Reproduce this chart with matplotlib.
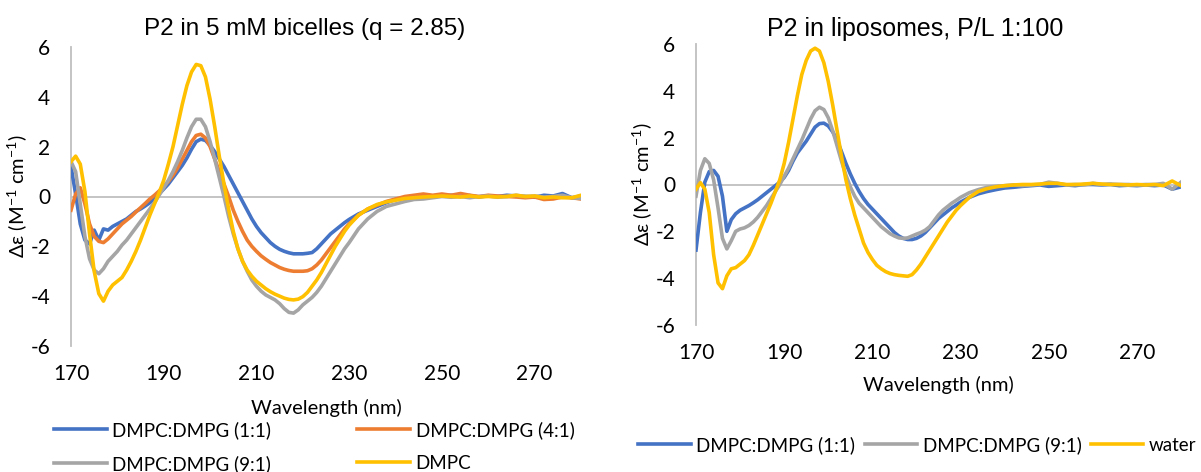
import matplotlib
matplotlib.use("Agg")
import matplotlib.pyplot as plt

plt.rcParams['font.family'] = ['Lato', 'DejaVu Sans']
plt.rcParams['mathtext.fontset'] = 'custom'
plt.rcParams['mathtext.rm'] = 'Lato'
plt.rcParams['mathtext.it'] = 'Lato:italic'
plt.rcParams['axes.unicode_minus'] = False

# wavelength grid (nm), shared by all series
wl = list(range(170, 231)) + list(range(232, 281, 2))

# --- P2 in 5 mM bicelles ---
bic_11 = [1.2, 0.1, -1.1, -1.75, -1.9, -1.35, -1.75, -1.3, -1.35, -1.2,
          -1.1, -1.0, -0.9, -0.75, -0.6, -0.5, -0.38, -0.25, -0.08, 0.1,
          0.3, 0.5, 0.75, 1.0, 1.25, 1.55, 1.9, 2.2, 2.3, 2.25,
          2.05, 1.8, 1.5, 1.2, 0.85, 0.5, 0.15, -0.2, -0.55, -0.9,
          -1.2, -1.45, -1.65, -1.85, -2.0, -2.12, -2.2, -2.26, -2.3, -2.3,
          -2.3, -2.28, -2.25, -2.1, -1.9, -1.7, -1.5, -1.35, -1.2, -1.05,
          -0.92,
          -0.7, -0.55, -0.4, -0.25, -0.12, -0.05, 0.0, -0.03, 0.0, 0.02,
          0.05, 0.0, 0.04, -0.02, 0.03, 0.0, 0.05, 0.02, 0.0, -0.03,
          0.05, 0.02, 0.12, -0.05, 0.02]
bic_41 = [-0.55, 0.1, 0.35, -0.3, -1.1, -1.6, -1.8, -1.85, -1.7, -1.5,
          -1.3, -1.1, -0.95, -0.8, -0.62, -0.45, -0.28, -0.1, 0.05, 0.22,
          0.4, 0.6, 0.85, 1.15, 1.5, 1.85, 2.2, 2.45, 2.5, 2.35,
          2.0, 1.5, 1.0, 0.5, 0.0, -0.55, -1.0, -1.4, -1.75, -2.0,
          -2.2, -2.38, -2.52, -2.65, -2.75, -2.85, -2.92, -2.97, -3.0, -3.0,
          -3.0, -2.98, -2.9, -2.75, -2.55, -2.3, -2.05, -1.8, -1.55, -1.3,
          -1.1,
          -0.75, -0.5, -0.35, -0.2, -0.1, 0.0, 0.05, 0.1, 0.05, 0.1,
          0.05, 0.12, 0.05, 0.0, 0.05, 0.02, 0.0, -0.02, -0.05, -0.02,
          -0.12, -0.1, -0.02, -0.05, -0.1]
bic_91 = [1.4, 1.0, -0.3, -1.6, -2.5, -2.95, -3.1, -2.9, -2.6, -2.4,
          -2.2, -1.95, -1.75, -1.5, -1.25, -1.0, -0.75, -0.5, -0.25, 0.05,
          0.35, 0.65, 1.0, 1.4, 1.85, 2.35, 2.8, 3.1, 3.1, 2.8,
          2.2, 1.5, 0.75, 0.0, -0.8, -1.5, -2.1, -2.6, -3.0, -3.35,
          -3.6, -3.8, -3.95, -4.05, -4.15, -4.3, -4.5, -4.65, -4.68, -4.55,
          -4.35, -4.2, -4.05, -3.85, -3.6, -3.3, -3.0, -2.7, -2.4, -2.1,
          -1.85,
          -1.3, -0.9, -0.6, -0.4, -0.3, -0.2, -0.12, -0.1, -0.05, 0.0,
          -0.03, 0.0, -0.05, 0.0, 0.02, -0.03, 0.0, 0.05, 0.0, 0.02,
          -0.02, 0.0, 0.05, -0.05, -0.08]
bic_dmpc = [1.4, 1.62, 1.3, 0.2, -1.5, -3.0, -3.9, -4.2, -3.8, -3.55,
            -3.4, -3.25, -2.95, -2.6, -2.2, -1.75, -1.25, -0.75, -0.3, 0.15,
            0.65, 1.3, 2.0, 2.85, 3.7, 4.45, 5.0, 5.3, 5.25, 4.8,
            3.9, 2.8, 1.6, 0.5, -0.5, -1.4, -2.1, -2.6, -2.95, -3.2,
            -3.4, -3.55, -3.7, -3.82, -3.92, -4.0, -4.08, -4.13, -4.15, -4.12,
            -4.02, -3.85, -3.6, -3.35, -3.05, -2.7, -2.35, -2.0, -1.7, -1.4,
            -1.15,
            -0.75, -0.5, -0.32, -0.22, -0.15, -0.08, -0.05, -0.02, 0.0, 0.02,
            0.0, -0.02, 0.02, -0.02, 0.0, -0.02, 0.0, 0.05, 0.0, 0.02,
            -0.05, -0.02, -0.05, -0.05, 0.05]

# --- P2 in liposomes ---
lip_11 = [-2.8, -1.2, 0.1, 0.55, 0.6, 0.35, -0.5, -2.0, -1.5, -1.25,
          -1.1, -1.0, -0.9, -0.78, -0.65, -0.5, -0.35, -0.2, -0.05, 0.1,
          0.3, 0.6, 1.0, 1.35, 1.6, 1.85, 2.15, 2.45, 2.6, 2.62,
          2.5, 2.25, 1.9, 1.4, 0.9, 0.45, 0.05, -0.3, -0.6, -0.85,
          -1.05, -1.25, -1.45, -1.65, -1.85, -2.05, -2.2, -2.3, -2.35, -2.35,
          -2.3, -2.2, -2.05, -1.85, -1.65, -1.45, -1.3, -1.15, -1.0, -0.88,
          -0.75,
          -0.55, -0.4, -0.3, -0.22, -0.15, -0.12, -0.08, -0.05, -0.02, -0.08,
          -0.05, -0.02, -0.05, 0.0, 0.0, -0.02, 0.0, -0.05, -0.03, -0.05,
          -0.02, -0.05, -0.02, -0.2, -0.1]
lip_91 = [-0.5, 0.6, 1.1, 0.9, 0.2, -1.0, -2.3, -2.75, -2.4, -2.0,
          -1.9, -1.85, -1.75, -1.6, -1.4, -1.15, -0.9, -0.6, -0.3, 0.0,
          0.35, 0.7, 1.1, 1.5, 1.9, 2.35, 2.8, 3.15, 3.3, 3.2,
          2.85, 2.3, 1.65, 1.0, 0.4, -0.1, -0.5, -0.8, -1.0, -1.2,
          -1.4, -1.6, -1.8, -1.95, -2.1, -2.2, -2.28, -2.3, -2.28, -2.2,
          -2.12, -2.05, -1.95, -1.8, -1.55, -1.3, -1.1, -0.95, -0.8, -0.68,
          -0.55,
          -0.35, -0.22, -0.12, -0.08, -0.05, -0.02, -0.05, -0.02, 0.0, 0.1,
          0.05, -0.02, 0.0, -0.02, 0.05, 0.0, 0.02, 0.0, 0.0, -0.02,
          0.0, 0.0, 0.05, -0.2, 0.1]
lip_water = [-0.2, 0.08, -0.2, -1.2, -3.0, -4.2, -4.45, -3.9, -3.6, -3.55,
             -3.4, -3.25, -3.0, -2.6, -2.15, -1.7, -1.25, -0.8, -0.3, 0.2,
             0.9, 1.8, 2.8, 3.8, 4.7, 5.3, 5.7, 5.82, 5.7, 5.2,
             4.4, 3.4, 2.3, 1.2, 0.2, -0.6, -1.3, -1.9, -2.5, -2.9,
             -3.2, -3.45, -3.6, -3.72, -3.8, -3.85, -3.88, -3.9, -3.92, -3.85,
             -3.65, -3.4, -3.1, -2.8, -2.5, -2.2, -1.9, -1.6, -1.35, -1.1,
             -0.9,
             -0.55, -0.3, -0.18, -0.1, -0.05, -0.02, 0.0, 0.0, 0.02, 0.05,
             0.05, 0.0, 0.0, 0.02, 0.05, 0.02, 0.0, 0.0, -0.02, 0.0,
             -0.02, 0.0, -0.05, 0.15, -0.05]

xticks = [170, 190, 210, 230, 250, 270]
yticks = [-6, -4, -2, 0, 2, 4, 6]

BLUE, ORANGE, GREY, GOLD = '#4472C4', '#ED7D31', '#A5A5A5', '#FFC000'
AXIS = '#BFBFBF'
ylab = r'Δε (M$^{-1}$ cm$^{-1}$)'


def style(ax, xpad):
    ax.set_xlim(170, 280)
    ax.set_ylim(-6, 6)
    for s in ['top', 'right', 'bottom']:
        ax.spines[s].set_visible(False)
    ax.spines['left'].set_color(AXIS)
    ax.spines['left'].set_linewidth(1.3)
    ax.spines['left'].set_zorder(1)
    ax.axhline(0, color=AXIS, lw=1.3, zorder=1)
    ax.set_xticks(xticks)
    ax.set_yticks(yticks)
    ax.tick_params(length=0, labelsize=15, colors='black')
    ax.tick_params(axis='x', pad=13)
    ax.tick_params(axis='y', pad=15)
    ax.set_xlabel('Wavelength (nm)', fontsize=14.5, labelpad=xpad)
    ax.set_ylabel(ylab, fontsize=14.5, labelpad=1)


fig = plt.figure(figsize=(12.01, 4.72), dpi=100)

ax1 = fig.add_axes([71 / 1201, 1 - 346 / 472, 510 / 1201, 299 / 472])
l11, = ax1.plot(wl, bic_11, color=BLUE, lw=2.6, label='DMPC:DMPG (1:1)')
l41, = ax1.plot(wl, bic_41, color=ORANGE, lw=2.6, label='DMPC:DMPG (4:1)')
l91, = ax1.plot(wl, bic_91, color=GREY, lw=2.6, label='DMPC:DMPG (9:1)')
ldm, = ax1.plot(wl, bic_dmpc, color=GOLD, lw=2.6, label='DMPC')
style(ax1, 11)
fig.text(305 / 1201, 1 - 29 / 472, 'P2 in 5 mM bicelles (q = 2.85)',
         family='Liberation Sans', fontsize=17.5, ha='center', va='center')
# column-wise fill: col 1 = (1:1, 9:1), col 2 = (4:1, DMPC)
hs = [l11, l91, l41, ldm]
fig.legend(hs, [h.get_label() for h in hs],
           ncol=2, loc='upper left', bbox_to_anchor=(54 / 1201, 1 - 421 / 472),
           frameon=False, fontsize=13.5, handlelength=2.8, handletextpad=0.3,
           columnspacing=4.6, labelspacing=0.85, borderaxespad=0, borderpad=0)

ax2 = fig.add_axes([696 / 1201, 1 - 325 / 472, 485 / 1201, 281 / 472])
ax2.plot(wl, lip_11, color=BLUE, lw=2.6, label='DMPC:DMPG (1:1)')
ax2.plot(wl, lip_91, color=GREY, lw=2.6, label='DMPC:DMPG (9:1)')
ax2.plot(wl, lip_water, color=GOLD, lw=2.6, label='water')
style(ax2, 9)
fig.text(915 / 1201, 1 - 29 / 472, 'P2 in liposomes, P/L 1:100',
         family='Liberation Sans', fontsize=18, ha='center', va='center')
h, l = ax2.get_legend_handles_labels()
fig.legend(h, l, ncol=3, loc='upper left', bbox_to_anchor=(638 / 1201, 1 - 436 / 472),
           frameon=False, fontsize=13.5, handlelength=2.8, handletextpad=0.3,
           columnspacing=0.5, borderaxespad=0, borderpad=0)

fig.savefig('out.png', dpi=100)
